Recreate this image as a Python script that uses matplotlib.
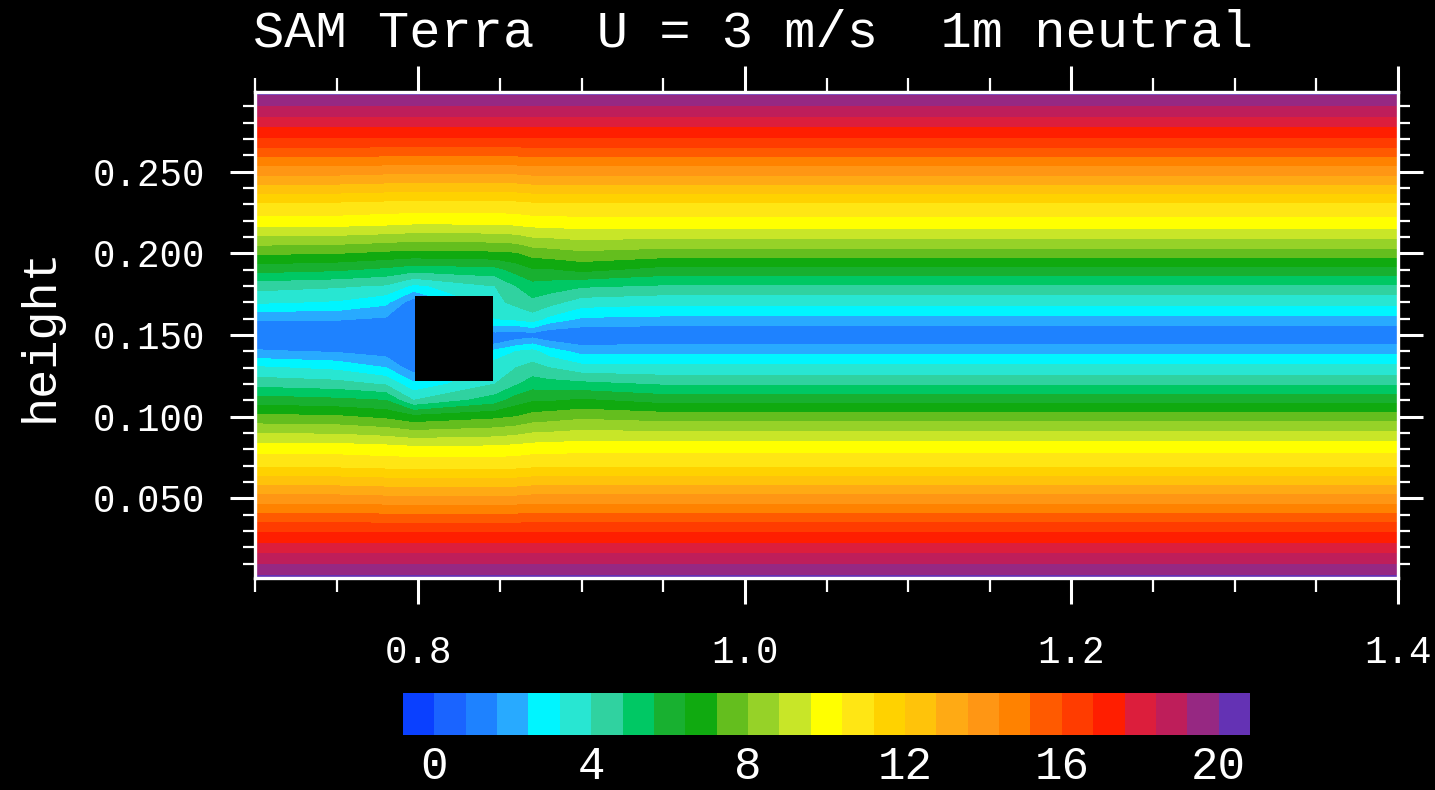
import numpy as np
import matplotlib
matplotlib.use('Agg')
import matplotlib.pyplot as plt
from matplotlib.colors import from_levels_and_colors
from matplotlib.patches import Rectangle
from matplotlib.ticker import MultipleLocator, FixedLocator, FormatStrFormatter

# heights of the sampled rows (m) and x positions of the sampled columns
z_rows = [0.00, 0.03, 0.05, 0.07, 0.08, 0.10, 0.11, 0.12, 0.13, 0.14, 0.145, 0.15,
          0.155, 0.16, 0.17, 0.18, 0.19, 0.20, 0.22, 0.23, 0.25, 0.27, 0.30]
x_cols = [0.70, 0.75, 0.78, 0.797, 0.847, 0.86, 0.87, 0.88, 0.90, 0.95, 1.40]

# speed profiles, one list per x column, bottom to top
u_070 = [20.4, 16.7, 13.9, 11.0, 10.1, 7.4, 6.0, 4.5, 3.3, 1.7, 1.2, 0.9, 1.2, 1.7, 3.3, 4.3, 5.9, 7.3, 10.1, 11.0, 13.9, 16.7, 20.4]
u_075 = [20.4, 16.7, 13.9, 11.0, 10.1, 7.3, 5.8, 4.3, 3.0, 1.5, 1.1, 0.9, 1.2, 1.7, 3.1, 4.1, 5.7, 7.2, 10.1, 11.0, 13.9, 16.7, 20.4]
u_078 = [20.4, 16.7, 13.8, 10.9, 10.0, 7.0, 5.6, 3.9, 2.4, 1.2, 1.0, 0.9, 1.1, 1.5, 2.6, 3.9, 5.4, 7.0, 10.0, 10.9, 13.8, 16.7, 20.4]
u_0797 = [20.4, 16.7, 13.8, 10.9, 9.9, 6.6, 4.0, 2.6, 1.1, 1.1, 1.1, 1.1, 1.1, 1.1, 1.1, 3.0, 5.1, 6.9, 9.9, 10.9, 13.8, 16.7, 20.4]
u_0847 = [20.4, 16.7, 13.8, 10.9, 9.9, 7.0, 5.2, 4.0, 3.7, 2.6, 1.5, 1.2, 2.3, 3.2, 3.8, 4.0, 5.3, 7.0, 9.9, 10.9, 13.8, 16.7, 20.4]
u_086 = [20.4, 16.7, 13.8, 10.9, 10.0, 7.2, 6.0, 4.7, 4.0, 3.2, 2.0, 1.1, 2.2, 3.4, 4.2, 4.8, 5.9, 7.1, 10.0, 10.9, 13.8, 16.7, 20.4]
u_087 = [20.4, 16.7, 13.9, 11.0, 10.1, 7.5, 6.3, 5.2, 4.3, 3.4, 2.3, 1.2, 2.5, 3.6, 4.6, 5.3, 6.3, 7.5, 10.1, 11.0, 13.9, 16.7, 20.4]
u_088 = [20.4, 16.7, 13.9, 11.0, 10.1, 7.6, 6.3, 5.1, 4.0, 2.8, 1.8, 1.0, 1.9, 3.0, 4.3, 5.2, 6.3, 7.6, 10.1, 11.0, 13.9, 16.7, 20.4]
u_090 = [20.4, 16.7, 13.9, 11.0, 10.2, 7.8, 6.5, 5.0, 3.5, 2.1, 1.4, 0.9, 1.6, 2.3, 3.6, 4.9, 6.6, 7.8, 10.2, 11.0, 13.9, 16.7, 20.4]
u_far = [20.4, 16.7, 13.9, 11.0, 10.2, 7.6, 6.1, 4.7, 3.4, 2.2, 1.5, 0.9, 1.5, 2.2, 3.4, 4.7, 6.1, 7.6, 10.2, 11.0, 13.9, 16.7, 20.4]

# obstacle block (x0, x1, z0, z1)
block = (0.798, 0.846, 0.122, 0.174)

levels = np.arange(0, 20.01, 0.8)
colors = ['#0a40ff', '#1a64ff', '#1e82ff', '#28aaff', '#00f5ff', '#28e6d2',
          '#30d2a0', '#00c864', '#18b030', '#10aa10', '#64be1e', '#96d228',
          '#c8e628', '#ffff00', '#ffe614', '#ffd200', '#ffc30a', '#ffaa14',
          '#ff9614', '#ff8200', '#ff5a00', '#ff3c00', '#ff1e00', '#dc1e3c',
          '#be1e5a', '#962882', '#6432b4']

font = 'Liberation Mono'
plt.rcParams['font.family'] = [font, 'DejaVu Sans Mono']

U = np.column_stack([u_070, u_075, u_078, u_0797, u_0847, u_086, u_087,
                     u_088, u_090, u_far, u_far])
cmap, norm = from_levels_and_colors(levels, colors, extend='both')

fig = plt.figure(figsize=(14.35, 7.9), dpi=100, facecolor='black')
ax = fig.add_axes([255 / 1435, 1 - 578 / 790, 1143 / 1435, 486 / 790])
ax.set_facecolor('black')

cf = ax.contourf(x_cols, z_rows, U, levels=levels, cmap=cmap, norm=norm,
                 extend='both', antialiased=False)
ax.add_patch(Rectangle((block[0], block[2]), block[1] - block[0],
                       block[3] - block[2], facecolor='black',
                       edgecolor='none', zorder=3))

ax.set_xlim(0.70, 1.40)
ax.set_ylim(0.0012, 0.2988)

ax.xaxis.set_major_locator(FixedLocator([0.8, 1.0, 1.2, 1.4]))
ax.xaxis.set_minor_locator(MultipleLocator(0.05))
ax.xaxis.set_major_formatter(FormatStrFormatter('%.1f'))
ax.yaxis.set_major_locator(FixedLocator([0.05, 0.10, 0.15, 0.20, 0.25]))
ax.yaxis.set_minor_locator(MultipleLocator(0.01))
ax.yaxis.set_major_formatter(FormatStrFormatter('%.3f'))

ax.tick_params(which='both', direction='out', top=True, right=True,
               labeltop=False, labelright=False, colors='white')
ax.tick_params(axis='x', which='major', length=19, width=2.2, pad=22, labelsize=27)
ax.tick_params(axis='x', which='minor', length=10, width=1.6)
ax.tick_params(axis='y', which='major', length=18, width=2.2, pad=18, labelsize=27)
ax.tick_params(axis='y', which='minor', length=8.5, width=1.6)
for sp in ax.spines.values():
    sp.set_color('white')
    sp.set_linewidth(2.4)
    sp.set_zorder(5)

fig.text(253 / 1435, 1 - 33 / 790, 'SAM Terra  U = 3 m/s  1m neutral',
         color='white', fontsize=37.5, ha='left', va='center')
fig.text(40 / 1435, 1 - 335 / 790, 'height', color='white', fontsize=35,
         rotation=90, ha='center', va='center')

# label bar
cax = fig.add_axes([403 / 1435, 1 - 735 / 790, 847 / 1435, 42 / 790])
cb = fig.colorbar(cf, cax=cax, orientation='horizontal',
                  ticks=[0, 4, 8, 12, 16, 20], extendrect=True,
                  extendfrac=1 / 25, drawedges=False)
cb.outline.set_visible(False)
cax.tick_params(length=0, pad=7, labelsize=33, colors='white')
cax.set_xticklabels(['0', '4', '8', '12', '16', '20'])

fig.savefig('out.png', dpi=100, facecolor='black')
